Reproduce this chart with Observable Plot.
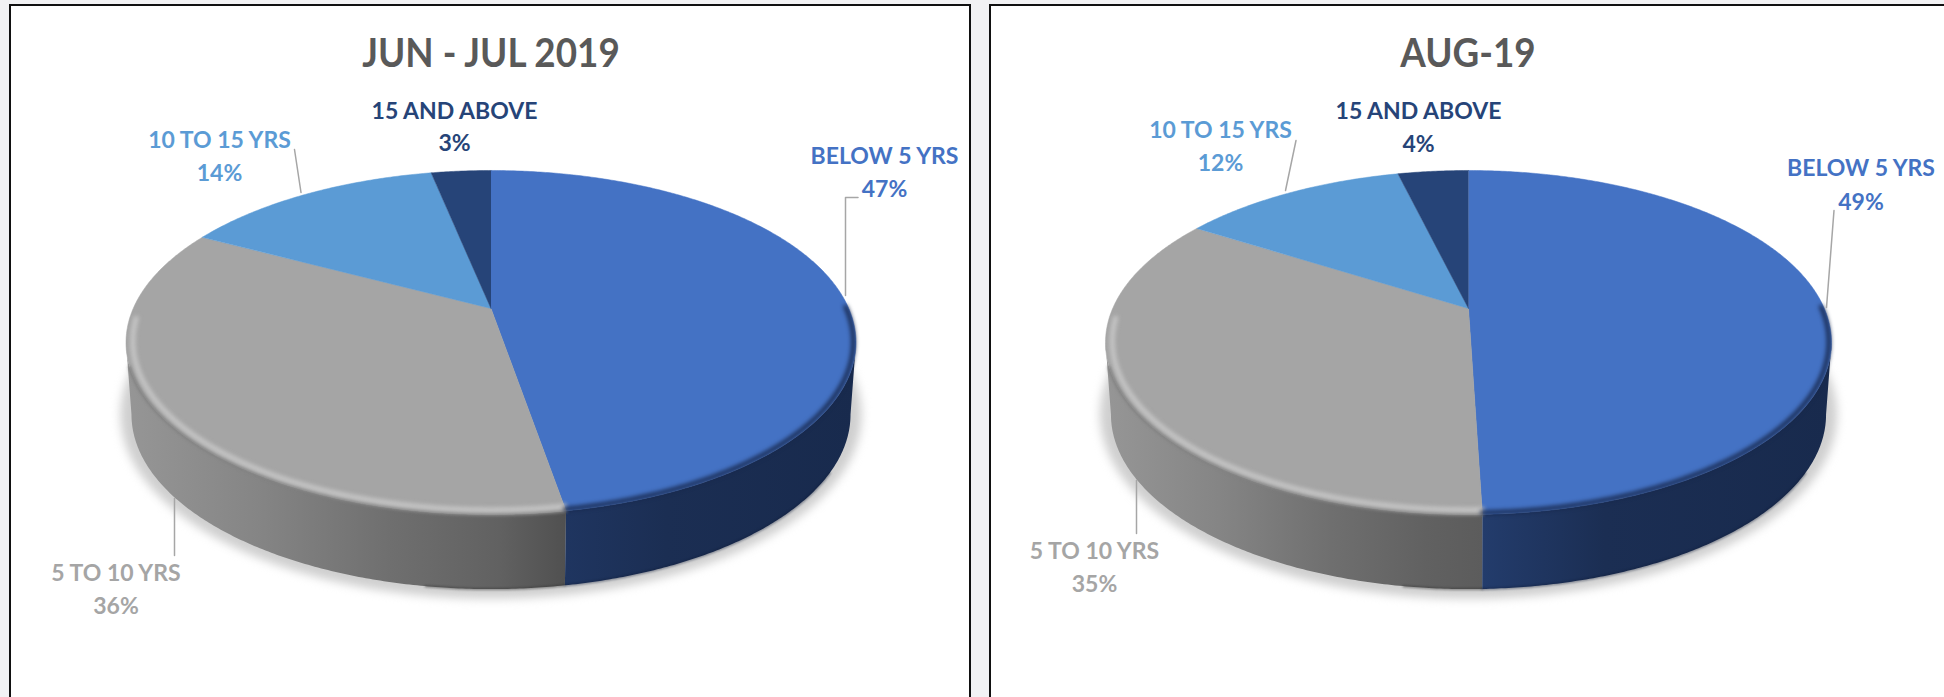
<!DOCTYPE html>
<html>
<head>
<meta charset="utf-8">
<script src="https://cdn.jsdelivr.net/npm/d3@7"></script>
<script src="https://cdn.jsdelivr.net/npm/@observablehq/plot@0.6"></script>
<style>
html,body{margin:0;padding:0;background:#f2f2f4;overflow:hidden;width:1944px;height:697px}
.panel{position:absolute;box-sizing:border-box;top:4px;height:760px;background:#fff;border:2px solid #111;overflow:hidden}
.panel svg{position:absolute;left:0;top:0;background:transparent}
.title{position:absolute;top:22px;text-align:center;font:bold 40px Lato,"Liberation Sans",sans-serif;color:#595959;white-space:nowrap}
</style>
</head>
<body>
<script>
const categories = ["BELOW 5 YRS", "5 TO 10 YRS", "10 TO 15 YRS", "15 AND ABOVE"];
const colors = ["#4472c4", "#a5a5a5", "#5b9bd5", "#264478"];
const titles = ["JUN - JUL 2019", "AUG-19"];
const junShares = [47.3, 35.5, 14.0, 3.2];
const augShares = [49.5, 34.5, 12.2, 3.8];
const junLabels = [47, 36, 14, 3];
const augLabels = [49, 35, 12, 4];

const K = 0.1977;
function makePanel(cfg) {
  const {left, width, cx, rx, shares, pct, title, id, labelPos, leaders, grayEnd, navyStart} = cfg;
  const A = rx * Math.sqrt(1 - K * K), C = 308, B = 104.4;
  const cyMid = 342;
  // perspective projection of the pie's top face; theta clockwise from 12 o'clock
  const top = (deg, r = 1) => {
    const t = deg * Math.PI / 180, u = r * Math.sin(t), v = -r * Math.cos(t), w = 1 - K * v;
    return {x: cx + A * u / w, y: (C + B * v) / w};
  };
  const bottom = (deg, s = 0.985, sy = 1.015, dy = 72) => {
    const p = top(deg);
    return {x: cx + s * (p.x - cx), y: cyMid + dy + sy * (p.y - cyMid)};
  };
  const arc = (a, b, f = top) => {
    const out = [], n = Math.max(2, Math.ceil(Math.abs(b - a) * 2));
    for (let i = 0; i <= n; i++) out.push(f(a + (b - a) * i / n));
    return out;
  };
  const angles = [0];
  shares.forEach(s => angles.push(angles[angles.length - 1] + s * 3.6));
  const center = top(0, 0);
  const rightDeg = 180 - Math.acos(K) * 180 / Math.PI, leftDeg = 360 - rightDeg;
  const edge = angles[1];

  const faces = shares.map((s, i) => [center, ...arc(angles[i], angles[i + 1])]);
  const navySide = [...arc(rightDeg, edge), ...arc(edge, rightDeg, bottom)];
  const graySide = [...arc(edge, leftDeg), ...arc(leftDeg, edge, bottom)];
  const shadow = arc(0, 360, d => bottom(d, 1.015, 1.07, 72));

  const defs = () => {
    const d = d3.create("svg:defs");
    const grad = (name, stops) => {
      const g = d.append("linearGradient").attr("id", name);
      stops.forEach(([o, c]) => g.append("stop").attr("offset", o).attr("stop-color", c));
    };
    grad(id + "gray", [[0, "#969696"], [0.3, "#858585"], [0.6, "#6f6f6f"], [0.85, "#616161"], [1, grayEnd]]);
    grad(id + "navy", [[0, navyStart], [0.35, "#1b2e53"], [1, "#182a4d"]]);
    return d.node();
  };
  const poly = (pts, opts) => Plot.line(pts, {x: "x", y: "y", stroke: "none", ...opts});
  const rim = (pts, opts) => Plot.line(pts, {x: "x", y: "y", fill: "none", strokeLinecap: "round", ...opts});

  const labelRows = [];
  categories.forEach((c, i) => {
    const [x, y1, y2] = labelPos[i];
    labelRows.push({x, y: y1, text: c, color: colors[i]});
    labelRows.push({x, y: y2, text: pct[i] + "%", color: colors[i]});
  });

  const panel = document.createElement("div");
  panel.className = "panel";
  panel.style.left = left + "px";
  panel.style.width = width + "px";
  const inner = width - 4;
  const t = document.createElement("div");
  t.className = "title";
  t.textContent = title;
  t.style.left = (cx - left - 2) + "px";
  t.style.transform = "translateX(-50%) scaleX(0.92)";
  panel.appendChild(t);

  const plot = Plot.plot({
    width: inner, height: 750,
    margin: 0,
    x: {domain: [left + 2, left + 2 + inner], range: [0, inner], axis: null},
    y: {domain: [6, 756], range: [0, 750], axis: null},
    style: {background: "transparent", fontFamily: 'Lato,"Liberation Sans",sans-serif'},
    marks: [
      defs,
      poly(shadow, {fill: "#cfcfcf", imageFilter: "blur(5px)"}),
      poly(graySide, {fill: `url(#${id}gray)`}),
      poly(navySide, {fill: `url(#${id}navy)`}),
      rim(arc(leftDeg - 70, edge, bottom), {stroke: "#333", strokeWidth: 2, strokeOpacity: 0.55, imageFilter: "blur(1px)"}),
      rim(arc(120, edge, bottom), {stroke: "#101c38", strokeWidth: 2, strokeOpacity: 0.5, imageFilter: "blur(1px)"}),
      ...faces.map((f, i) => poly(f, {fill: colors[i], stroke: colors[i], strokeWidth: 0.5})),
      rim(arc(edge, leftDeg - 8), {stroke: "#808080", strokeWidth: 3, imageFilter: "blur(1.5px)"}),
      rim(arc(edge, leftDeg + 8, d => top(d, 0.982)), {stroke: "#c6c6c6", strokeWidth: 5, imageFilter: "blur(2.2px)"}),
      rim(arc(rightDeg - 12, edge, d => top(d, 0.993)), {stroke: "#16264a", strokeWidth: 4, imageFilter: "blur(2px)"}),
      ...leaders.map(l => Plot.line(l.map(([x, y]) => ({x, y})), {x: "x", y: "y", stroke: "#a6a6a6", strokeWidth: 1.5})),
      Plot.text(labelRows, {x: "x", y: "y", text: "text", fill: "color", fontSize: 23, fontWeight: "bold", textAnchor: "middle", lineAnchor: "middle"})
    ]
  });
  panel.appendChild(plot);
  document.body.appendChild(panel);
}

makePanel({
  left: 9, width: 962, cx: 490.5, rx: 365, id: "a", title: titles[0],
  shares: junShares, pct: junLabels, grayEnd: "#505050", navyStart: "#1f3560",
  labelPos: [[884, 156, 189], [115.5, 573, 606], [219, 140, 173], [454, 111, 143]],
  leaders: [
    [[857.5, 197], [845, 197], [845, 295]],
    [[174, 498], [174, 555]],
    [[294, 149], [300.5, 192]]
  ]
});
makePanel({
  left: 989, width: 1000, cx: 1468, rx: 363, id: "b", title: titles[1],
  shares: augShares, pct: augLabels, grayEnd: "#5c5c5c", navyStart: "#233c6c",
  labelPos: [[1860.5, 168, 202], [1094, 551, 584], [1220, 130, 163], [1418, 111, 144]],
  leaders: [
    [[1833.5, 210], [1826, 307]],
    [[1136, 480], [1136, 533]],
    [[1295.5, 140], [1285, 190]]
  ]
});
</script>
</body>
</html>
